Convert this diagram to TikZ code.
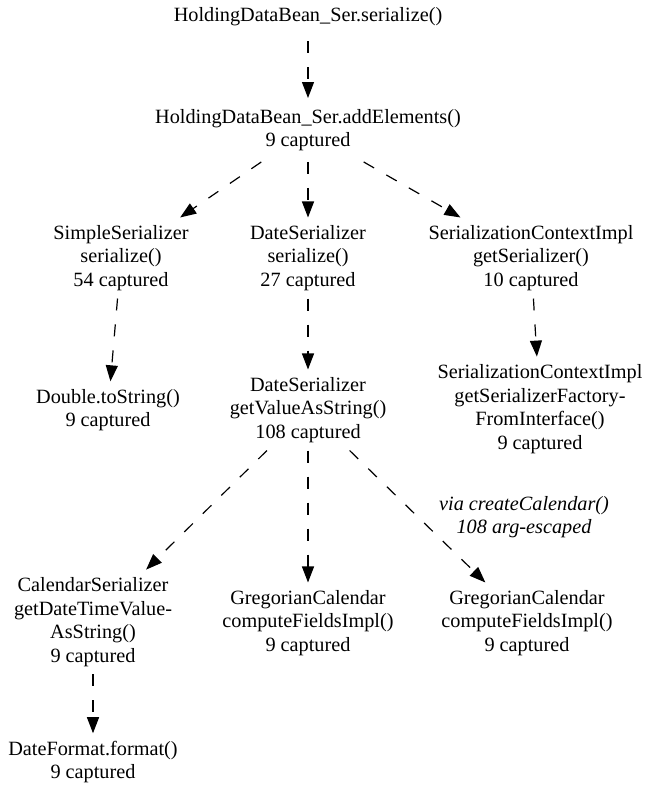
\documentclass[tikz,border=0pt]{standalone}
\usepackage{fontspec}
\setmainfont{Liberation Serif}
\usetikzlibrary{arrows.meta}
\tikzset{mth/.style={align=center, inner xsep=3pt, inner ysep=5.5pt, font=\fontsize{15.2pt}{17.8pt}\selectfont},
  calls/.style={dash pattern=on 9pt off 10.5pt, line width=0.9pt, -{Triangle[length=12pt,width=9pt]}}}

\begin{document}
\begin{tikzpicture}[x=0.75pt, y=-0.75pt]
\useasboundingbox (0,0) rectangle (645,787);
\node[mth, inner ysep=11pt] (ser) at (308,17) {HoldingDataBean\_Ser.serialize()};
\node[mth, inner ysep=8pt] (add) at (308,130) {HoldingDataBean\_Ser.addElements()\\9 captured};
\node[mth] (simple) at (121,258) {SimpleSerializer\\serialize()\\54 captured};
\node[mth] (date) at (308,258) {DateSerializer\\serialize()\\27 captured};
\node[mth] (ctx) at (531,258) {SerializationContextImpl\\getSerializer()\\10 captured};
\node[mth] (dbl) at (108,410) {Double.toString()\\9 captured};
\node[mth] (val) at (308,410) {DateSerializer\\getValueAsString()\\108 captured};
\node[mth] (fact) at (540,409) {SerializationContextImpl\\getSerializerFactory-\\FromInterface()\\9 captured};
\node[mth] (cal) at (93,622) {CalendarSerializer\\getDateTimeValue-\\AsString()\\9 captured};
\node[mth] (greg) at (308,623) {GregorianCalendar\\computeFieldsImpl()\\9 captured};
\node[mth] (gregb) at (527,623) {GregorianCalendar\\computeFieldsImpl()\\9 captured};
\node[mth] (fmt) at (93,762) {DateFormat.format()\\9 captured};
\node[mth, font=\fontsize{15.2pt}{17.8pt}\selectfont\itshape] (via) at (524,517) {via createCalendar()\\108 arg-escaped};

\draw[calls] (ser) -- (add);
\draw[calls] (add) -- (simple);
\draw[calls] (add) -- (date);
\draw[calls] (add) -- (ctx);
\draw[calls] (simple) -- (dbl);
\draw[calls] (date) -- (val);
\draw[calls] (ctx) -- (fact);
\draw[calls] (val) -- (cal);
\draw[calls] (val) -- (greg);
\draw[calls] (val) -- (gregb);
\draw[calls] (cal) -- (fmt);
\end{tikzpicture}
\end{document}
